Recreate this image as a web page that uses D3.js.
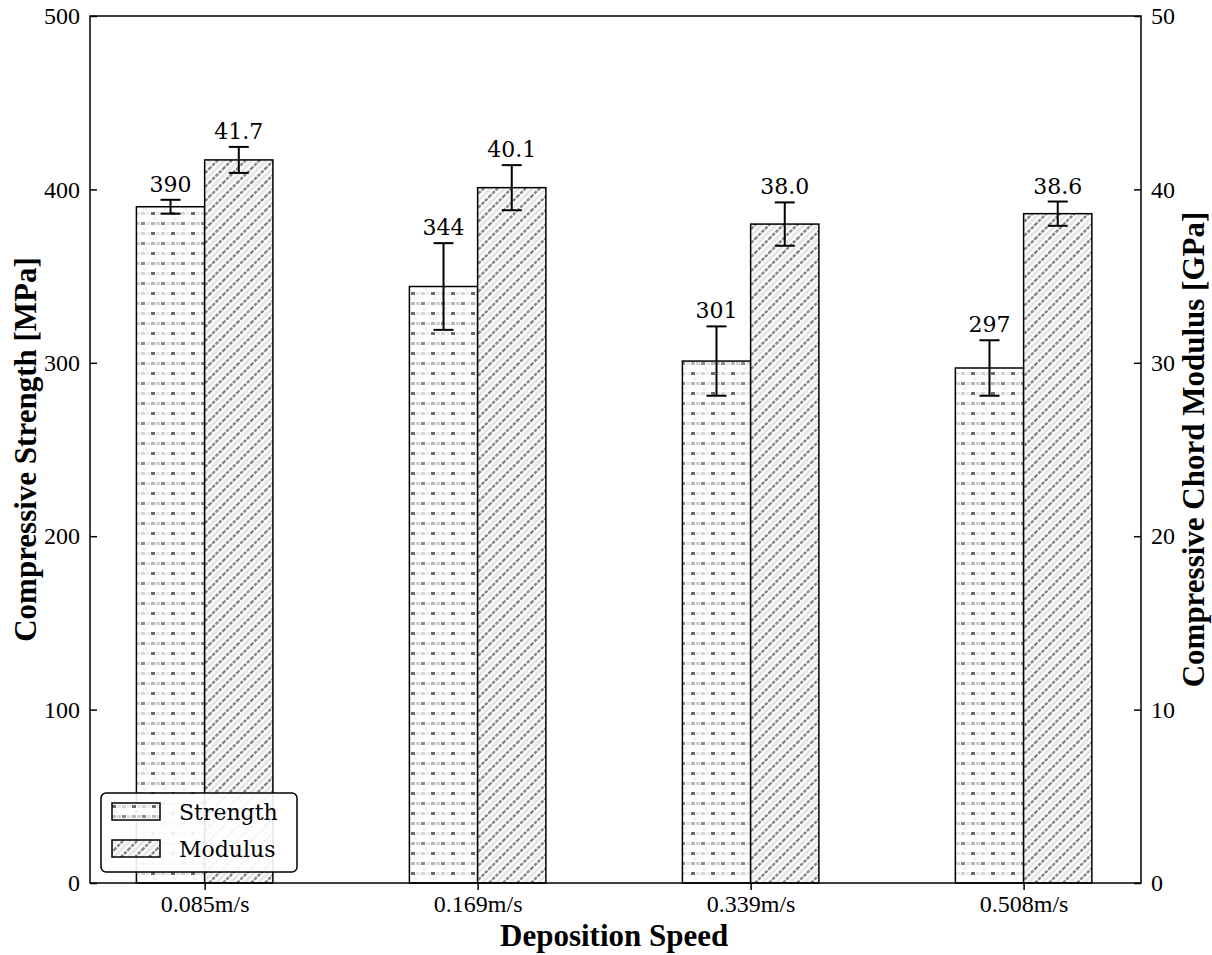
<!DOCTYPE html>
<html>
<head>
<meta charset="utf-8">
<script src="https://cdn.jsdelivr.net/npm/d3@7"></script>
<style>
  body { margin: 0; background: #fff; }
  svg { display: block; }
</style>
</head>
<body>
<svg id="chart" width="1212" height="955"></svg>
<script>
// data
const speeds = ["0.085m/s", "0.169m/s", "0.339m/s", "0.508m/s"];
const strength = [390, 344, 301, 297];
const strengthErr = [4, 25, 20, 16];
const strengthLabels = ["390", "344", "301", "297"];
const modulus = [41.7, 40.1, 38.0, 38.6];
const modulusErr = [0.75, 1.3, 1.25, 0.7];
const modulusLabels = ["41.7", "40.1", "38.0", "38.6"];
const leftTicks = [0, 100, 200, 300, 400, 500];
const rightTicks = [0, 10, 20, 30, 40, 50];

const margin = {top: 16, right: 71, bottom: 72, left: 90};
const width = 1212, height = 955;

const svg = d3.select("#chart");

// hatch patterns (greyish dotted like the rasterised hatches)
const defs = svg.append("defs");

let pS = defs.append("pattern")
    .attr("id", "hatchS")
    .attr("patternUnits", "userSpaceOnUse")
    .attr("width", 20).attr("height", 20);
pS.append("rect").attr("width", 20).attr("height", 20).attr("fill", "#fff");
[[1, 2, "#8a8a8a"], [11, 2, "#b8b8b8"], [6, 2, "#e2e2e2"], [16, 2, "#d0d0d0"],
 [1, 12, "#d4d4d4"], [11, 12, "#6a6a6a"], [6, 12, "#ececec"], [16, 12, "#e8e8e8"],
 [3, 7, "#f2f2f2"], [13, 17, "#f2f2f2"]]
    .forEach(function (s) {
        pS.append("rect").attr("x", s[0]).attr("y", s[1])
            .attr("width", 4).attr("height", 3).attr("fill", s[2]);
    });

let pM = defs.append("pattern")
    .attr("id", "hatchM")
    .attr("patternUnits", "userSpaceOnUse")
    .attr("width", 14).attr("height", 14);
pM.append("rect").attr("width", 14).attr("height", 14).attr("fill", "#fff");
// faint secondary diagonals
pM.append("path")
    .attr("d", "M-1,8 L8,-1 M6,15 L15,6")
    .attr("stroke", "#e6e6e6").attr("stroke-width", 3).attr("fill", "none");
// main "/" diagonals
pM.append("path")
    .attr("d", "M-1,15 L15,-1 M-4,4 L4,-4 M10,18 L18,10")
    .attr("stroke", "#8a8a8a").attr("stroke-width", 2.6).attr("fill", "none")
    .attr("stroke-dasharray", "3.5 1.2");

// scales
const x = d3.scaleLinear()
    .domain([-0.42, speeds.length - 1 + 0.43])
    .range([margin.left, width - margin.right]);
const yL = d3.scaleLinear().domain([0, 500]).range([height - margin.bottom, margin.top]);
const yR = d3.scaleLinear().domain([0, 50]).range([height - margin.bottom, margin.top]);
const bw = 0.25;

const g = svg.append("g");

// strength bars
g.selectAll("rect.s")
    .data(strength)
    .join("rect")
    .attr("class", "s")
    .attr("x", (d, i) => x(i - bw))
    .attr("width", (d, i) => x(i) - x(i - bw))
    .attr("y", d => yL(d))
    .attr("height", d => yL(0) - yL(d))
    .attr("fill", "url(#hatchS)")
    .attr("stroke", "#000")
    .attr("stroke-width", 1.5);

// modulus bars
g.selectAll("rect.m")
    .data(modulus)
    .join("rect")
    .attr("class", "m")
    .attr("x", (d, i) => x(i))
    .attr("width", (d, i) => x(i + bw) - x(i))
    .attr("y", d => yR(d))
    .attr("height", d => yR(0) - yR(d))
    .attr("fill", "url(#hatchM)")
    .attr("stroke", "#000")
    .attr("stroke-width", 1.5);

// error bars
function errorBars(vals, errs, scale, off) {
    const eg = g.append("g").attr("stroke", "#000").attr("stroke-width", 2);
    vals.forEach(function (v, i) {
        const cx = x(i + off);
        const top = scale(v + errs[i]), bot = scale(v - errs[i]);
        eg.append("line").attr("x1", cx).attr("x2", cx).attr("y1", top).attr("y2", bot);
        eg.append("line").attr("x1", cx - 10).attr("x2", cx + 10).attr("y1", top).attr("y2", top);
        eg.append("line").attr("x1", cx - 10).attr("x2", cx + 10).attr("y1", bot).attr("y2", bot);
    });
}
errorBars(strength, strengthErr, yL, -bw / 2);
errorBars(modulus, modulusErr, yR, bw / 2);

// value labels
function valueLabels(vals, errs, labels, scale, off) {
    g.append("g").selectAll("text")
        .data(vals)
        .join("text")
        .attr("x", (d, i) => x(i + off))
        .attr("y", (d, i) => scale(d + errs[i]) - 8)
        .attr("text-anchor", "middle")
        .attr("font-family", "DejaVu Serif")
        .attr("font-size", "22px")
        .attr("fill", "#000")
        .text((d, i) => labels[i]);
}
valueLabels(strength, strengthErr, strengthLabels, yL, -bw / 2);
valueLabels(modulus, modulusErr, modulusLabels, yR, bw / 2);

// frame
svg.append("rect")
    .attr("x", margin.left).attr("y", margin.top)
    .attr("width", width - margin.left - margin.right)
    .attr("height", height - margin.top - margin.bottom)
    .attr("fill", "none").attr("stroke", "#000").attr("stroke-width", 1.5);

// axes
const fontTicks = "'Liberation Serif', 'Times New Roman', serif";

const axL = svg.append("g")
    .attr("transform", "translate(" + margin.left + ",0)")
    .call(d3.axisLeft(yL).tickValues(leftTicks).tickSizeInner(-7).tickSizeOuter(0).tickPadding(10));
const axR = svg.append("g")
    .attr("transform", "translate(" + (width - margin.right) + ",0)")
    .call(d3.axisRight(yR).tickValues(rightTicks).tickSizeInner(-7).tickSizeOuter(0).tickPadding(10));
const axB = svg.append("g")
    .attr("transform", "translate(0," + (height - margin.bottom) + ")")
    .call(d3.axisBottom(x).tickValues(d3.range(speeds.length))
        .tickFormat(i => speeds[i]).tickSizeInner(7).tickSizeOuter(0).tickPadding(5));

[axL, axR, axB].forEach(function (a) {
    a.select(".domain").remove();
    a.selectAll(".tick line").attr("stroke", "#000").attr("stroke-width", 1.5);
    a.selectAll(".tick text")
        .attr("font-family", fontTicks)
        .attr("font-size", "24px")
        .attr("fill", "#000");
});

// axis titles
svg.append("text")
    .attr("x", x(1.5)).attr("y", 946)
    .attr("text-anchor", "middle")
    .attr("font-family", fontTicks)
    .attr("font-weight", "bold")
    .attr("font-size", "31px")
    .text("Deposition Speed");

svg.append("text")
    .attr("transform", "translate(36," + ((margin.top + height - margin.bottom) / 2) + ") rotate(-90)")
    .attr("text-anchor", "middle")
    .attr("font-family", fontTicks)
    .attr("font-weight", "bold")
    .attr("font-size", "31px")
    .text("Compressive Strength [MPa]");

svg.append("text")
    .attr("transform", "translate(1204," + ((margin.top + height - margin.bottom) / 2) + ") rotate(-90)")
    .attr("text-anchor", "middle")
    .attr("font-family", fontTicks)
    .attr("font-weight", "bold")
    .attr("font-size", "31px")
    .text("Compressive Chord Modulus [GPa]");

// legend
const legend = svg.append("g").attr("transform", "translate(101,793)");
legend.append("rect")
    .attr("width", 196).attr("height", 79).attr("rx", 5)
    .attr("fill", "#fff").attr("fill-opacity", 0.9)
    .attr("stroke", "#000").attr("stroke-width", 1.5);
const legItems = [["Strength", "url(#hatchS)"], ["Modulus", "url(#hatchM)"]];
legItems.forEach(function (it, i) {
    legend.append("rect")
        .attr("x", 11).attr("y", 10 + i * 37)
        .attr("width", 48).attr("height", 17)
        .attr("fill", it[1]).attr("stroke", "#000").attr("stroke-width", 1.5);
    legend.append("text")
        .attr("x", 78).attr("y", 27 + i * 37)
        .attr("font-family", "DejaVu Serif")
        .attr("font-size", "22px")
        .text(it[0]);
});
</script>
</body>
</html>
